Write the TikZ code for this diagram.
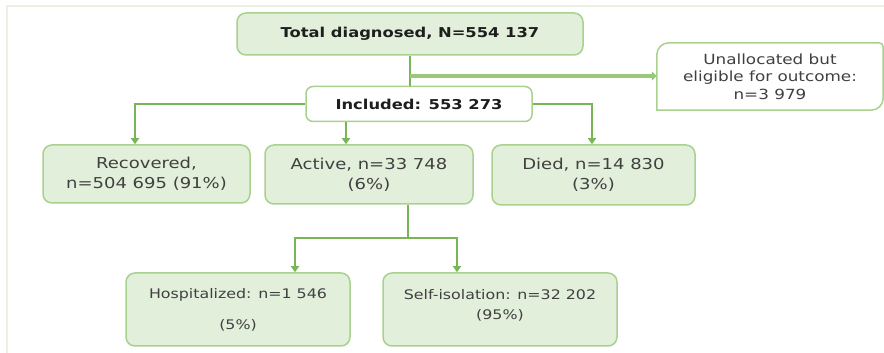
\documentclass[tikz,border=0pt]{standalone}
\usepackage{fontspec}
\setmainfont{DejaVu Sans}[FakeStretch=1.2]
\usetikzlibrary{arrows.meta}
\definecolor{boxfill}{HTML}{E2EFDA}
\definecolor{boxedge}{HTML}{A9D18E}
\definecolor{linegreen}{HTML}{78B555}
\definecolor{thickgreen}{HTML}{98C97B}
\definecolor{framegreen}{HTML}{E8F1E2}
\definecolor{txtgray}{HTML}{404040}
\definecolor{txtdark}{HTML}{1E1E1E}
\tikzset{
  gbox/.style={draw=boxedge, fill=boxfill, line width=1.5pt, rounded corners=9pt,
    align=center, inner sep=0pt, text=txtgray},
  midfont/.style={font=\fontsize{15}{20}\selectfont},
  lowfont/.style={font=\fontsize{13.2}{20}\selectfont},
  boldfont/.style={font=\fontsize{13.6}{16}\selectfont\bfseries, text=txtdark},
  conn/.style={draw=linegreen, line width=2pt},
  arr/.style={conn, -{Triangle[width=8pt,length=6pt]}},
}
\begin{document}
\begin{tikzpicture}[x=1pt,y=1pt]
\useasboundingbox (0,0) rectangle (884,353);
% faint frame
\draw[framegreen, line width=1.5pt] (7,0) -- (7,347) -- (884,347);
% nodes
\node[gbox, boldfont, minimum width=346pt, minimum height=42pt] (total) at (410,319) {\raisebox{3pt}{Total diagnosed, N=554 137}};
\node[gbox, boldfont, fill=white, rounded corners=7pt, minimum width=226pt, minimum height=35pt] (included) at (419,249) {Included: 553 273};
\node[inner sep=0pt, minimum width=226pt, minimum height=67pt] (unalloc) at (770,276.5) {};
\draw[draw=boxedge, fill=white, line width=1.5pt]
  ([xshift=12pt]unalloc.north west) -- ([xshift=-4pt]unalloc.north east)
  arc[start angle=90, end angle=0, radius=4pt]
  -- ([yshift=12pt]unalloc.south east)
  arc[start angle=0, end angle=-90, radius=12pt]
  -- (unalloc.south west) -- ([yshift=-12pt]unalloc.north west)
  arc[start angle=180, end angle=90, radius=12pt] -- cycle;
\node[align=center, inner sep=0pt, text=txtgray, font=\fontsize{14}{17.5}\selectfont] (unalloctext) at (unalloc.center) {Unallocated but\\eligible for outcome:\\n=3 979};
\node[gbox, midfont, minimum width=207pt, minimum height=58pt] (recovered) at (146.5,179) {Recovered,\\n=504 695 (91\%)};
\node[gbox, midfont, minimum width=208pt, minimum height=59pt] (active) at (369,178.5) {Active, n=33 748\\(6\%)};
\node[gbox, midfont, minimum width=203pt, minimum height=60pt] (died) at (593.5,178) {Died, n=14 830\\(3\%)};
\node[gbox, lowfont, minimum width=224pt, minimum height=73pt] (hosp) at (238,43.5) {Hospitalized: n=1 546\\[11pt](5\%)};
\node[gbox, lowfont, minimum width=234pt, minimum height=73pt] (self) at (500,43.5) {Self-isolation: n=32 202\\(95\%)\rule[-10pt]{0pt}{0pt}};
% connectors
\coordinate (br) at (410,277);
\draw[conn] (total.south) -- (total.south |- included.north);
\draw[draw=thickgreen, line width=4pt, -{Triangle[width=9pt,length=5pt]}] (br) -- (br -| unalloc.west);
\draw[arr] (included.west) -| ([xshift=-11.5pt]recovered.north);
\draw[arr] (included.east) -| ([xshift=-1.5pt]died.north);
\coordinate (incB) at ([xshift=-73pt]included.south);
\draw[arr] (incB) -- (incB |- active.north);
\coordinate (actB) at ([xshift=39pt]active.south);
\coordinate (split) at (408,115);
\coordinate (hT) at ([xshift=57pt]hosp.north);
\coordinate (sT) at ([xshift=-43pt]self.north);
\draw[conn] (actB) -- (actB |- split);
\draw[arr] (actB |- split) -| (hT);
\draw[arr] (actB |- split) -| (sT);
\end{tikzpicture}
\end{document}
